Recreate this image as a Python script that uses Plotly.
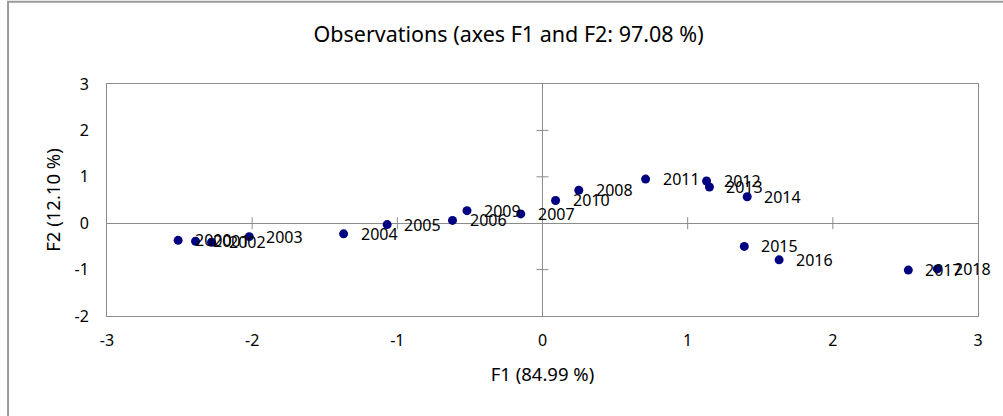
import plotly.graph_objects as go

years = ["2000", "2001", "2002", "2003", "2004", "2005", "2006", "2007", "2008", "2009",
         "2010", "2011", "2012", "2013", "2014", "2015", "2016", "2017", "2018"]
f1 = [-2.51, -2.39, -2.28, -2.02, -1.37, -1.07, -0.62, -0.15, 0.25, -0.52,
      0.09, 0.71, 1.13, 1.15, 1.41, 1.39, 1.63, 2.52, 2.72]
f2 = [-0.37, -0.39, -0.41, -0.29, -0.23, -0.03, 0.06, 0.20, 0.71, 0.27,
      0.49, 0.95, 0.91, 0.78, 0.57, -0.50, -0.79, -1.01, -0.985]
x_ticks = [-3, -2, -1, 0, 1, 2, 3]
y_ticks = [-2, -1, 0, 1, 2, 3]

FONT = "Noto Sans"
GRAY = "#8c8c8c"

fig = go.Figure()
fig.add_trace(go.Scatter(
    x=f1, y=f2, mode="markers",
    marker=dict(color="#000080", size=9),
    hoverinfo="text", text=years, showlegend=False,
))

annotations = []
for xv, yv, t in zip(f1, f2, years):
    annotations.append(dict(
        x=xv, y=yv, xref="x", yref="y", text=t, showarrow=False,
        xanchor="left", yanchor="middle", xshift=15,
        font=dict(family=FONT, size=16, color="#000000"),
    ))

shapes = []
# cross ticks on the zero lines
for k in x_ticks[1:-1]:
    if k == 0:
        continue
    shapes.append(dict(type="line", xref="x", yref="y", x0=k, x1=k,
                       ysizemode="pixel", yanchor=0, y0=-6, y1=6,
                       line=dict(color=GRAY, width=1)))
for k in y_ticks[1:-1]:
    if k == 0:
        continue
    shapes.append(dict(type="line", xref="x", yref="y", y0=k, y1=k,
                       xsizemode="pixel", xanchor=0, x0=-6, x1=6,
                       line=dict(color=GRAY, width=1)))
# outer chart border
shapes.append(dict(type="rect", xref="paper", yref="paper",
                   x0=-0.1136, x1=1.2, y0=-0.6, y1=1.355,
                   line=dict(color="#9a9a9a", width=2), layer="below"))

fig.update_layout(
    width=1003, height=416,
    margin=dict(l=107, r=25, t=84, b=100),
    paper_bgcolor="white", plot_bgcolor="white",
    font=dict(family=FONT, size=16, color="#000000"),
    title=dict(text="Observations (axes F1 and F2: 97.08 %)",
               x=0.507, xref="container", xanchor="center",
               y=1 - 34 / 416, yref="container", yanchor="middle",
               font=dict(family=FONT, size=21.5, color="#000000")),
    annotations=annotations,
    shapes=shapes,
)
fig.update_xaxes(
    range=[-3, 3], tickvals=x_ticks, ticktext=[str(v) for v in x_ticks],
    showgrid=False, zeroline=True, zerolinecolor=GRAY, zerolinewidth=1,
    showline=True, mirror=True, linecolor=GRAY, linewidth=1,
    ticks="outside", ticklen=10, tickcolor="rgba(0,0,0,0)",
    tickfont=dict(family=FONT, size=16),
    title=dict(text="F1 (84.99 %)", font=dict(family=FONT, size=18.5), standoff=17),
)
fig.update_yaxes(
    range=[-2, 3], tickvals=y_ticks, ticktext=[str(v) for v in y_ticks],
    showgrid=False, zeroline=True, zerolinecolor=GRAY, zerolinewidth=1,
    showline=True, mirror=True, linecolor=GRAY, linewidth=1,
    ticks="outside", ticklen=14, tickcolor="rgba(0,0,0,0)",
    tickfont=dict(family=FONT, size=16),
    title=dict(text="F2 (12.10 %)", font=dict(family=FONT, size=18.5), standoff=9),
)

fig.write_html("out.html")
